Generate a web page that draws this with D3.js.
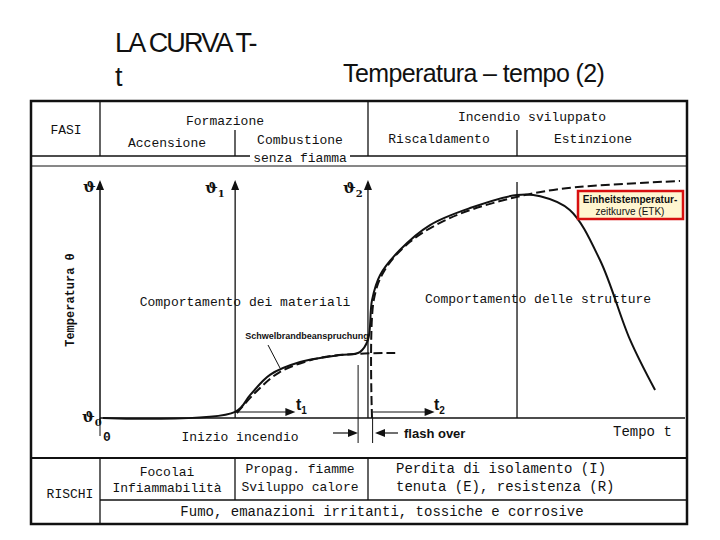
<!DOCTYPE html>
<html><head><meta charset="utf-8">
<script src="https://cdn.jsdelivr.net/npm/d3@7"></script>
<style>body{margin:0;background:#fff}</style>
</head><body>
<svg id="c" width="720" height="540"></svg>
<script>
// curve data: time (0-100) vs temperature (0-100)
const solidCurve = [[0.5,0],[23.3,2.6],[25.9,9.9],[29.3,18.5],[34.5,24],[41.4,27],[44.8,28.3],[46.2,33.5],[46.9,50.6],[48.3,61.4],[51.7,72.1],[56.9,82.8],[63.8,90.1],[71.9,95.7],[75.9,95.2],[81,89.3],[86.2,67.8],[91.4,33.5],[95.7,12]];
const smoulderCurve = [[23.6,2.1],[26.7,10.7],[31,19.7],[37.9,25.8],[44,27.5],[50.9,27.9]];
const etkCurve = [[46.9,0],[47.2,50.6],[49.1,63.5],[53.4,75.5],[60.3,85.8],[69,93.1],[79.3,98.3],[100,101.7]];
const phaseTimes = [23.3, 46.2, 71.9];
const fasiLabels = ["Accensione","Combustione","Riscaldamento","Estinzione"];

const svg = d3.select("#c");
const mono = "Liberation Mono, DejaVu Sans Mono, monospace";
const x = d3.scaleLinear().domain([0,100]).range([100,680]);
const y = d3.scaleLinear().domain([0,100]).range([418,185]);

function txt(t, px, py, o={}) {
  return svg.append("text").attr("x",px).attr("y",py).text(t)
    .attr("font-family", o.f||mono).attr("font-size", o.s||13)
    .attr("font-weight", o.w||"normal").attr("text-anchor", o.a||"start")
    .attr("fill","#111");
}
function ln(x1,y1,x2,y2,w){ return svg.append("line").attr("x1",x1).attr("y1",y1).attr("x2",x2).attr("y2",y2).attr("stroke","#111").attr("stroke-width",w||1.3); }

// titles
txt("LA CURVA T-",115,52,{f:"Liberation Sans, Arial",s:27}).attr("letter-spacing",-1.8);
txt("t",115,86,{f:"Liberation Sans, Arial",s:27});
txt("Temperatura – tempo (2)",343,82,{f:"Liberation Sans, Arial",s:25}).attr("letter-spacing",-0.6);

// frame
svg.append("rect").attr("x",31).attr("y",101).attr("width",656).attr("height",423).attr("fill","none").attr("stroke","#111").attr("stroke-width",2.5);
ln(31,156,250,156); ln(350,156,687,156);
ln(31,166,687,166,1);
ln(100,101,100,156);
ln(368,101,368,156);
ln(235,130,235,156); ln(517,130,517,156);
txt("FASI",66,134,{a:"middle"});
txt("Formazione",225,125,{a:"middle"});
txt("Incendio sviluppato",532,121,{a:"middle"});
txt(fasiLabels[0],167,147,{a:"middle"});
txt(fasiLabels[1],300,144,{a:"middle"});
txt("senza fiamma",300,162,{a:"middle"});
txt(fasiLabels[2],439,143,{a:"middle"});
txt(fasiLabels[3],593,143,{a:"middle"});

// axes
ln(x(0),y(0),x(100)+5,y(0),1.5);
ln(x(0),y(0)+5,x(0),182,1.5);
const arrow = (px,py,dir) => {
  const p = dir==="up" ? `${px-4},${py+10} ${px},${py} ${px+4},${py+10}` : `${px-10},${py-4} ${px},${py} ${px-10},${py+4}`;
  svg.append("polygon").attr("points",p).attr("fill","#111");
};
arrow(x(0),180,"up");
ln(x(0),y(0),x(0),y(0)+18,1);
phaseTimes.forEach(t => { ln(x(t),y(0),x(t),182,1.3); });
arrow(x(phaseTimes[0]),180,"up"); arrow(x(phaseTimes[1]),180,"up");
ln(x(44.5),y(0)+25,x(44.5),365,1); ln(x(47),y(0)+25,x(47),y(0),1);
// t1,t2 arrows
ln(x(23.3),y(0)-6,x(33),y(0)-6,1.2); arrow(x(33)+4,y(0)-6,"right");
ln(x(47),y(0)-6,x(57),y(0)-6,1.2); arrow(x(57)+4,y(0)-6,"right");

const line = d3.line().x(d=>x(d[0])).y(d=>y(d[1])).curve(d3.curveCatmullRom);
svg.append("path").datum(solidCurve).attr("d",line).attr("fill","none").attr("stroke","#111").attr("stroke-width",2);
svg.append("path").datum(smoulderCurve).attr("d",line).attr("fill","none").attr("stroke","#111").attr("stroke-width",2).attr("stroke-dasharray","9,4");
svg.append("path").datum(etkCurve).attr("d",line).attr("fill","none").attr("stroke","#111").attr("stroke-width",2).attr("stroke-dasharray","9,4");

// labels in plot
const th = (s,px,py)=>{ const t=txt("ϑ",px,py,{f:"DejaVu Serif",s:15,w:"bold"}); if(s) t.append("tspan").attr("font-size",10).attr("dy",4).text(s); };
th("",83,192); th("0",82,422); th("1",205,193); th("2",343,193);
txt("Temperatura θ",74,300,{a:"middle",w:"bold",s:12}).attr("transform","rotate(-90,74,300)");
txt("0",103,441,{w:"bold"});
txt("Comportamento dei materiali",245,306,{a:"middle"});
txt("Comportamento delle strutture",538,303,{a:"middle"});
txt("Schwelbrandbeanspruchung",307,339,{a:"middle",f:"Liberation Sans Narrow, Liberation Sans",s:9,w:"bold"});
ln(268,345,280,368,1);
txt("t",296,410,{f:"Liberation Sans",s:16,w:"bold"}).append("tspan").attr("font-size",10).attr("dy",4).text("1");
txt("t",434,410,{f:"Liberation Sans",s:16,w:"bold"}).append("tspan").attr("font-size",10).attr("dy",4).text("2");
txt("Inizio incendio",240,441,{a:"middle"});
ln(333,433,355,433,1.2); arrow(358,433,"right");
svg.append("polygon").attr("points","375,433 385,429 385,437").attr("fill","#111"); ln(385,433,398,433,1.2);
txt("flash over",404,438,{f:"Liberation Sans",s:13,w:"bold"});
txt("Tempo t",613,436,{s:14});
svg.append("rect").attr("x",578).attr("y",191).attr("width",105).attr("height",28).attr("fill","#fff6d0").attr("stroke","#d81010").attr("stroke-width",2.5);
txt("Einheitstemperatur-",630,203,{a:"middle",f:"Liberation Sans",s:10,w:"bold"});
txt("zeitkurve  (ETK)",630,215,{a:"middle",f:"Liberation Sans",s:10});

// rischi rows
ln(31,458,687,458,2);
ln(100,458,100,524);
ln(100,500,687,500);
ln(235,458,235,500); ln(368,458,368,500);
txt("RISCHI",70,498,{a:"middle"});
txt("Focolai",167,476,{a:"middle"});
txt("Infiammabilità",167,492,{a:"middle"});
txt("Propag. fiamme",300,473,{a:"middle"});
txt("Sviluppo calore",300,491,{a:"middle"});
txt("Perdita di isolamento (I)",396,473,{s:14});
txt("tenuta (E), resistenza (R)",396,491,{s:14});
txt("Fumo, emanazioni irritanti, tossiche e corrosive",382,516,{a:"middle",s:14});
</script>
</body></html>
